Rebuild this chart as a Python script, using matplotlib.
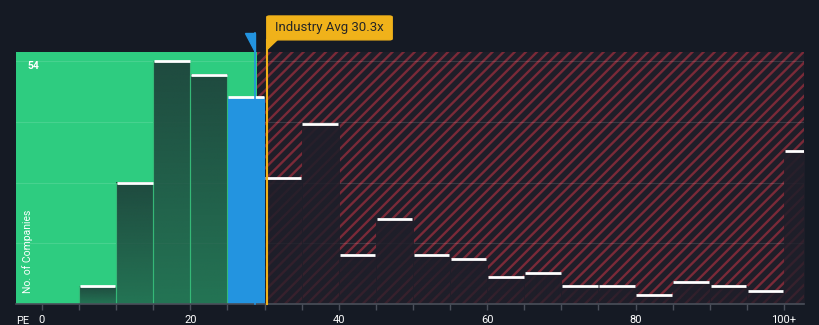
import numpy as np
import matplotlib.pyplot as plt
from matplotlib.patches import Rectangle, Polygon, FancyBboxPatch
from matplotlib.colors import to_rgb

plt.rcParams['font.family'] = ['Roboto', 'DejaVu Sans']
plt.rcParams['hatch.linewidth'] = 1.7

# data (bins of 5 PE units, last bin is 100+)
bin_left = [5, 10, 15, 20, 25, 30, 35, 40, 45, 50, 55, 60, 65, 70, 75, 80, 85, 90, 95, 100]
counts = [4, 27, 54, 51, 46, 28, 40, 11, 19, 11, 10, 6, 7, 4, 4, 2, 5, 4, 3, 34]
company_pe = 28.7
industry_avg = 30.3
fair_split = 29.0
tick_vals = [0, 20, 40, 60, 80, 100]
tick_text = ['0', '20', '40', '60', '80', '100+']

bg = '#151a24'
green = '#2ecc80'
blue = '#2394e0'


def gradient_bar(ax, left, height, color, a_top, a_bottom):
    rgb = to_rgb(color)
    n = 64
    img = np.zeros((n, 1, 4))
    img[:, 0, :3] = rgb
    img[:, 0, 3] = np.linspace(a_top, a_bottom, n)
    ax.imshow(img, extent=[left, left + 5, 0, height], aspect='auto',
              origin='upper', zorder=2, interpolation='bilinear')


fig = plt.figure(figsize=(8.2, 3.25), dpi=100, facecolor=bg)
ax = fig.add_axes([16 / 820, 21 / 325, 788 / 820, 252 / 325])
ax.set_facecolor(bg)
xmin, xmax = -3.5, 102.7
ymax = 56

# green zone and hatched red zone
ax.add_patch(Rectangle((xmin, 0), fair_split - xmin, ymax, color=green, lw=0, zorder=0))
ax.add_patch(Rectangle((fair_split, 0), xmax - fair_split, ymax, facecolor='#1e1e29',
                       edgecolor='#7a2a38', hatch='///', lw=0, zorder=0))

# gridlines
for g in [13.5, 27, 40.5, 54]:
    ax.axhline(g, color='white', alpha=0.12, lw=0.8, zorder=1)

for left, c in zip(bin_left, counts):
    if left < 25:
        gradient_bar(ax, left, c, '#1f4a3f', 1.0, 0.68)
        ax.add_patch(Rectangle((left, 0), 5, c, fill=False, edgecolor='#35b877', lw=0.8, zorder=2.5))
    elif left == 25:
        ax.bar(left, c, width=5, align='edge', color=blue, lw=0, zorder=2)
    else:
        gradient_bar(ax, left, c, '#1f1e29', 0.92, 0.72)
    ax.hlines(c, left + 0.1, left + 4.9, color='white', lw=2, zorder=3)

ax.set_xlim(xmin, xmax)
ax.set_ylim(0, ymax)

# company marker and industry average line
ax.plot([company_pe, company_pe], [0, 60.2], color=blue, lw=1.2, zorder=4, clip_on=False)
ax.add_patch(Polygon([[company_pe - 1.35, 60.2], [company_pe, 60.2], [company_pe, 56]],
                     closed=True, color=blue, clip_on=False, zorder=5))
ax.plot([industry_avg, industry_avg], [0, 58.7], color='#f0b21a', lw=1.5, zorder=4, clip_on=False)
ax.add_patch(FancyBboxPatch((industry_avg, 58.7), 16.9, 5.3,
                            boxstyle='round,pad=0,rounding_size=0.4', mutation_aspect=0.6,
                            color='#f0b21a', clip_on=False, zorder=5))
ax.add_patch(Polygon([[industry_avg, 58.7], [industry_avg + 1.4, 58.7], [industry_avg, 56.5]],
                     closed=True, color='#f0b21a', clip_on=False, zorder=5))
ax.text(industry_avg + 8.5, 61.35, 'Industry Avg 30.3x', ha='center', va='center',
        fontsize=9.5, color='#262626', zorder=6, clip_on=False)

ax.text(-2.0, 52.8, '54', color='white', fontsize=7.5, fontweight='bold', va='center', zorder=6)
ax.text(-1.95, 11.7, 'No. of Companies', rotation=90, color='white', fontsize=7.5,
        ha='center', va='center', zorder=6)

# axes styling
for s in ['top', 'right', 'left']:
    ax.spines[s].set_visible(False)
ax.spines['bottom'].set_color('#4a4f5a')
ax.spines['bottom'].set_linewidth(1.2)
ax.set_yticks([])
ax.set_xticks(np.arange(0, 101, 5), minor=True)
ax.tick_params(axis='x', which='minor', length=4, color='#4a4f5a', width=1)
ax.set_xticks(tick_vals)
ax.set_xticklabels(tick_text)
ax.tick_params(axis='x', which='major', length=4, color='#4a4f5a', colors='white',
               labelsize=8, pad=4, width=1)
ax.text(-2.6, -2.7, 'PE', color='white', fontsize=8, ha='center', va='top',
        transform=ax.transData, clip_on=False)

fig.savefig('out.png', dpi=100, facecolor=bg)
